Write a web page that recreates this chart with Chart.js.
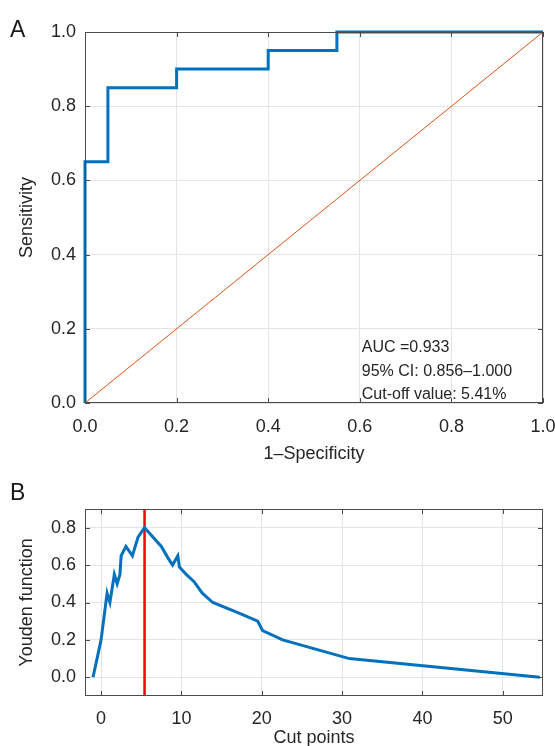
<!DOCTYPE html>
<html>
<head>
<meta charset="utf-8">
<script src="https://cdn.jsdelivr.net/npm/chart.js@4.4.1/dist/chart.umd.min.js"></script>
<style>
  html, body { margin: 0; padding: 0; background: #fff; }
  #wrap { position: relative; width: 555px; height: 746px; overflow: hidden; }
  canvas { position: absolute; left: 0; }
  #rocChart { top: 0; }
  #youdenChart { top: 465px; }
  .panel { position: absolute; left: 10px; font: 23px 'Liberation Sans', Arial, sans-serif; color: #1a1a1a; }
</style>
</head>
<body>
<div id="wrap">
  <canvas id="rocChart" width="555" height="465"></canvas>
  <canvas id="youdenChart" width="555" height="281"></canvas>
  <div class="panel" style="top:16px">A</div>
  <div class="panel" style="top:479px">B</div>
</div>
<script>
// ROC curve (panel A)
const rocFpr = [0, 0, 0.05, 0.05, 0.2, 0.2, 0.4, 0.4, 0.55, 0.55, 1];
const rocTpr = [0, 0.65, 0.65, 0.85, 0.85, 0.9, 0.9, 0.95, 0.95, 1, 1];
const refX = [0, 1];
const refY = [0, 1];
const rocTicks = [0, 0.2, 0.4, 0.6, 0.8, 1.0];
const rocNotes = ['AUC =0.933', '95% CI: 0.856\u20131.000', 'Cut-off value: 5.41%'];

// Youden index vs cut point (panel B)
const cutPoints = [-1, 0, 0.75, 1.1, 1.65, 2.0, 2.35, 2.5, 3.1, 3.9, 4.6, 5.41, 7.5, 8.3, 8.9, 9.55, 9.75, 10.6, 11.6, 12.6, 13.9, 16.8, 19.5, 20.1, 22.6, 30.9, 54.6];
const youden    = [0, 0.2, 0.45, 0.4, 0.55, 0.5, 0.55, 0.65, 0.7, 0.65, 0.75, 0.8, 0.7, 0.64, 0.6, 0.65, 0.59, 0.55, 0.51, 0.45, 0.4, 0.35, 0.3, 0.25, 0.2, 0.1, 0];
const cutoffValue = 5.41;
const cutXTicks = [0, 10, 20, 30, 40, 50];
const youdenTicks = [0, 0.2, 0.4, 0.6, 0.8];

const BLUE = '#0072BD';
const ORANGE = '#D95319';
const TEXT = '#262626';
const GRID = '#e4e4e4';
const BOX = '#4a4a4a';
const FS = 18;

Chart.defaults.font.family = "'Liberation Sans', Arial, sans-serif";
Chart.defaults.color = TEXT;

const zip = (xs, ys) => xs.map((x, i) => ({ x, y: ys[i] }));

// matlab-like box with inward ticks on all four sides
const boxPlugin = {
    id: 'box',
    afterDatasetsDraw(chart) {
        const { ctx, chartArea: a, scales } = chart;
        ctx.save();
        ctx.strokeStyle = BOX;
        ctx.lineWidth = 1;
        ctx.strokeRect(a.left + 0.5, a.top + 0.5, a.right - a.left - 1, a.bottom - a.top - 1);
        ctx.beginPath();
        scales.x.ticks.forEach(t => {
            const px = Math.round(scales.x.getPixelForValue(t.value)) + 0.5;
            ctx.moveTo(px, a.bottom); ctx.lineTo(px, a.bottom - 5);
            ctx.moveTo(px, a.top); ctx.lineTo(px, a.top + 5);
        });
        scales.y.ticks.forEach(t => {
            const py = Math.round(scales.y.getPixelForValue(t.value)) + 0.5;
            ctx.moveTo(a.left, py); ctx.lineTo(a.left + 5, py);
            ctx.moveTo(a.right, py); ctx.lineTo(a.right - 5, py);
        });
        ctx.stroke();
        ctx.restore();
    }
};

const notesPlugin = {
    id: 'notes',
    afterDraw(chart) {
        const { ctx, scales } = chart;
        ctx.save();
        ctx.fillStyle = TEXT;
        ctx.font = "16px 'Liberation Sans', Arial, sans-serif";
        ctx.textBaseline = 'middle';
        const x0 = scales.x.getPixelForValue(0.6) + 2;
        rocNotes.forEach((s, i) => ctx.fillText(s, x0, 348 + i * 23.5));
        ctx.restore();
    }
};

// fixed axis size, and no extra room for overhanging tick labels
function fixedAxis(size) {
    return function (scale) {
        if (scale.isHorizontal()) {
            scale.height = size;
            scale.paddingLeft = 0;
            scale.paddingRight = 0;
        } else {
            scale.width = size;
            scale.paddingTop = 0;
            scale.paddingBottom = 0;
        }
    };
}

new Chart(document.getElementById('rocChart'), {
    type: 'scatter',
    data: {
        datasets: [
            {
                data: zip(refX, refY),
                showLine: true,
                borderColor: ORANGE,
                borderWidth: 1,
                pointRadius: 0
            },
            {
                data: zip(rocFpr, rocTpr),
                showLine: true,
                borderColor: BLUE,
                borderWidth: 3,
                pointRadius: 0,
                clip: 4
            }
        ]
    },
    options: {
        responsive: false,
        animation: false,
        devicePixelRatio: 1,
        layout: { padding: { top: 32, right: 12, left: 0, bottom: 0 } },
        plugins: { legend: { display: false }, tooltip: { enabled: false } },
        scales: {
            x: {
                type: 'linear', min: 0, max: 1,
                afterBuildTicks: s => { s.ticks = rocTicks.map(v => ({ value: v })); },
                afterFit: fixedAxis(62),
                grid: { color: GRID, drawTicks: false },
                border: { display: false },
                ticks: { font: { size: FS }, padding: 13, callback: v => v.toFixed(1) },
                title: { display: true, text: '1\u2013Specificity', font: { size: FS }, padding: { top: 0, bottom: 0 } }
            },
            y: {
                type: 'linear', min: 0, max: 1,
                afterBuildTicks: s => { s.ticks = rocTicks.map(v => ({ value: v })); },
                afterFit: fixedAxis(85),
                grid: { color: GRID, drawTicks: false },
                border: { display: false },
                ticks: { font: { size: FS }, padding: 9, callback: v => v.toFixed(1) },
                title: { display: true, text: 'Sensitivity', font: { size: FS }, padding: { top: 16, bottom: 0 } }
            }
        }
    },
    plugins: [boxPlugin, notesPlugin]
});

new Chart(document.getElementById('youdenChart'), {
    type: 'scatter',
    data: {
        datasets: [
            {
                data: zip(cutPoints, youden),
                showLine: true,
                borderColor: BLUE,
                borderWidth: 3,
                pointRadius: 0
            },
            {
                data: [{ x: cutoffValue, y: -0.1 }, { x: cutoffValue, y: 0.9 }],
                showLine: true,
                borderColor: '#ff0000',
                borderWidth: 2.5,
                pointRadius: 0
            }
        ]
    },
    options: {
        responsive: false,
        animation: false,
        devicePixelRatio: 1,
        layout: { padding: { top: 44, right: 12, left: 0, bottom: 0 } },
        plugins: { legend: { display: false }, tooltip: { enabled: false } },
        scales: {
            x: {
                type: 'linear', min: -2, max: 55,
                afterBuildTicks: s => { s.ticks = cutXTicks.map(v => ({ value: v })); },
                afterFit: fixedAxis(50),
                grid: { color: GRID, drawTicks: false },
                border: { display: false },
                ticks: { font: { size: FS }, padding: 12 },
                title: { display: true, text: 'Cut points', font: { size: FS }, padding: { top: 0, bottom: -3 } }
            },
            y: {
                type: 'linear', min: -0.1, max: 0.9,
                afterBuildTicks: s => { s.ticks = youdenTicks.map(v => ({ value: v })); },
                afterFit: fixedAxis(85),
                grid: { color: GRID, drawTicks: false },
                border: { display: false },
                ticks: { font: { size: FS }, padding: 9, callback: v => v.toFixed(1) },
                title: { display: true, text: 'Youden function', font: { size: FS }, padding: { top: 16, bottom: 0 } }
            }
        }
    },
    plugins: [boxPlugin]
});
</script>
</body>
</html>
